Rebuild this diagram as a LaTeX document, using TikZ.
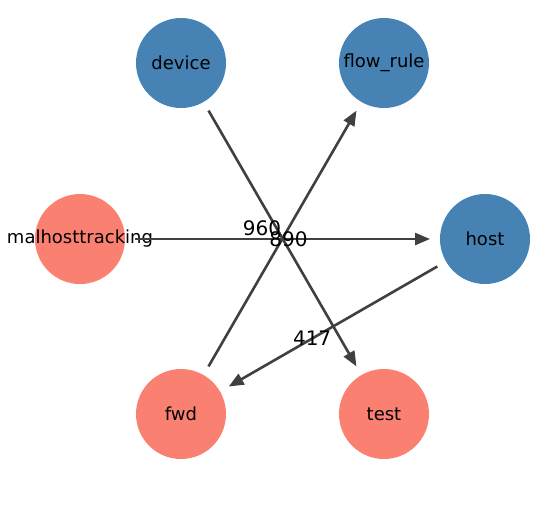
\documentclass[tikz,border=0pt]{standalone}
\usepackage{fontspec}
\setmainfont{DejaVu Sans}
\usetikzlibrary{arrows.meta}
\definecolor{nodeblue}{HTML}{4682B4}
\definecolor{nodesalmon}{HTML}{FA8072}
\definecolor{edgegray}{HTML}{404040}
\begin{document}
\begin{tikzpicture}[x=1pt,y=-1pt,
    vertex/.style={circle,minimum size=90pt,inner sep=0pt,outer sep=10pt,
                   font=\fontsize{18}{20}\selectfont},
    link/.style={edgegray,line width=2.6pt,-{Triangle[length=15pt,width=12pt]}}]
  \useasboundingbox (0,0) rectangle (545,512);
  \node[vertex,fill=nodeblue]    (device)    at (181,63)  {device};
  \node[vertex,fill=nodeblue]    (flowrule)  at (384,63)  {flow\_rule};
  \node[vertex,fill=nodesalmon]  (malhost)   at (80,239)  {\makebox[0pt]{malhosttracking}};
  \node[vertex,fill=nodeblue]    (host)      at (485,239) {host};
  \node[vertex,fill=nodesalmon]  (fwd)       at (181,414) {fwd};
  \node[vertex,fill=nodesalmon]  (test)      at (384,414) {test};
  \begin{scope}[every node/.style={text=black,font=\fontsize{20}{22}\selectfont}]
     \draw[link] (device)  -- (test);
     \draw[link] (fwd)     -- node[pos=0.5,xshift=-20.5pt,yshift=10.5pt] {960} (flowrule);
     \draw[link] (malhost) -- node[pos=0.52] {890} (host);
     \draw[link] (host)    -- node[pos=0.6] {417} (fwd);
  \end{scope}
\end{tikzpicture}
\end{document}
